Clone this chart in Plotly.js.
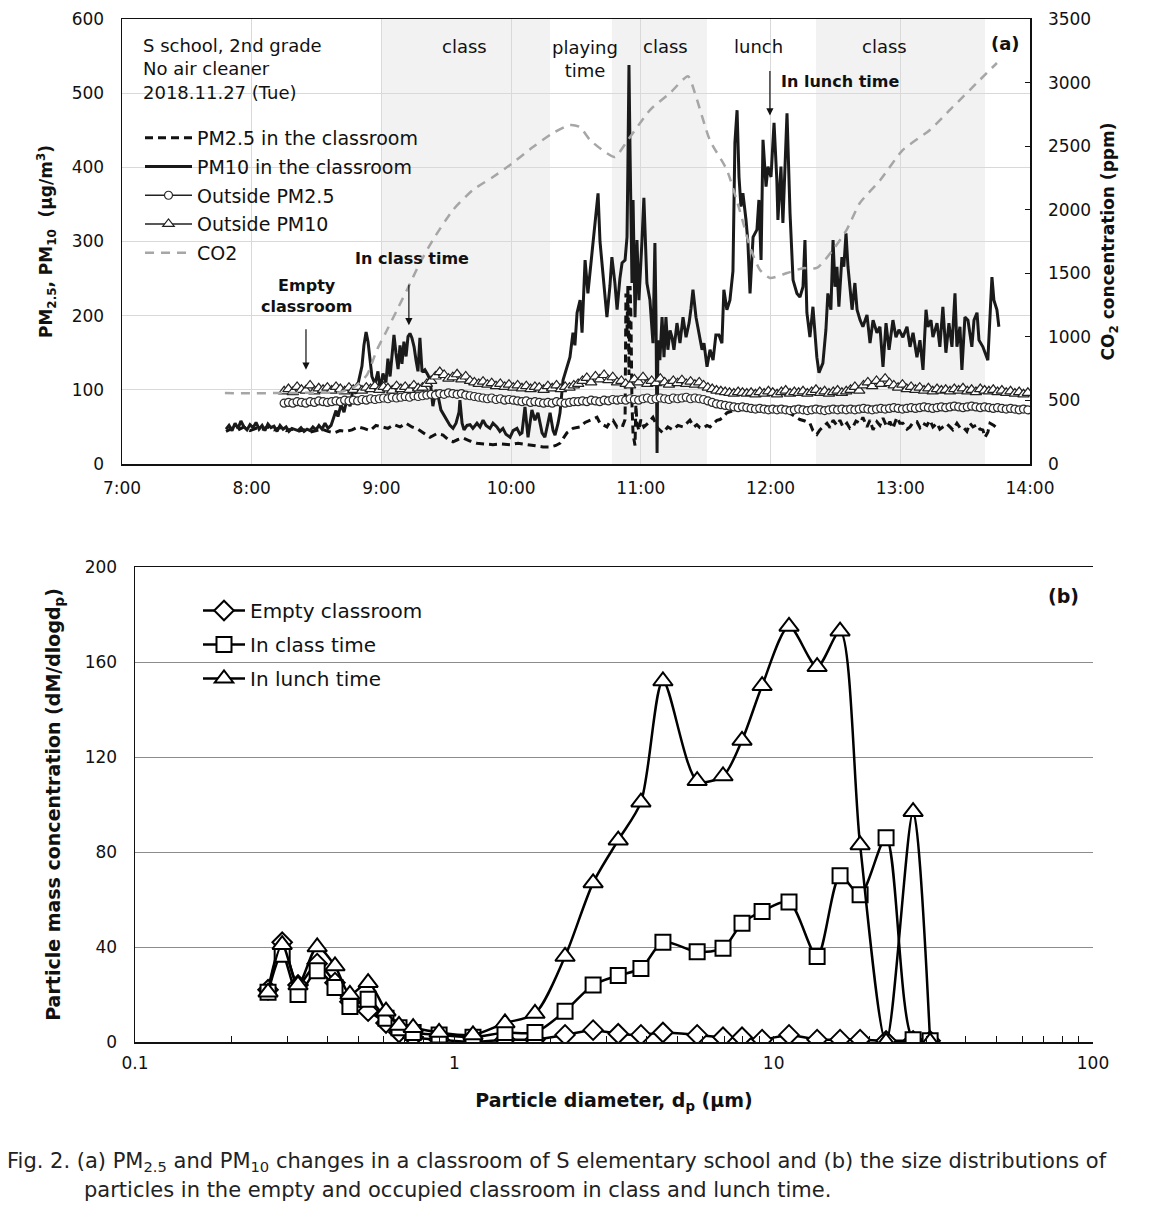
<!DOCTYPE html>
<html><head><meta charset="utf-8">
<script src="https://cdn.plot.ly/plotly-3.0.1.min.js"></script>
<style>html,body{margin:0;padding:0;background:#fff}</style>
</head><body><div id="chart" style="width:1159px;height:1209px"></div>
<script>
// ---------- (a) time series: time in minutes after 7:00 ----------
const hourTicks = [0,60,120,180,240,300,360,420];
const hourLabels = ['7:00','8:00','9:00','10:00','11:00','12:00','13:00','14:00'];

const pm10Time = [48.1,49.5,50.9,52.3,53.7,55.0,56.4,57.8,59.2,60.6,62.0,63.4,64.8,66.1,67.5,68.9,70.3,71.7,73.1,74.5,75.9,77.2,78.6,80.0,81.4,82.8,84.2,85.6,87.0,88.3,89.7,91.1,92.5,93.9,95.3,96.7,
97.6,99.0,99.9,101.3,102.7,104.1,105.5,106.8,108.2,109.6,
111.0,111.9,112.9,113.8,114.7,115.6,117.0,118.4,119.3,120.7,
122.1,123.0,124.0,124.9,125.8,126.7,127.7,128.6,129.5,130.4,
131.4,132.3,133.2,134.1,135.1,136.0,136.9,137.8,138.8,140.1,
141.5,142.5,143.8,145.2,146.2,147.5,148.9,150.3,151.7,153.1,
154.5,155.9,156.3,157.3,158.2,159.6,161.0,162.3,164.2,165.6,
167.0,168.4,170.2,171.6,173.4,174.8,176.2,177.6,179.5,180.9,
182.7,184.1,185.0,186.4,187.8,189.6,191.0,192.4,194.3,195.6,
197.0,198.0,199.4,200.3,201.7,202.6,204.0,205.8,207.2,208.6,
209.5,210.5,211.9,212.8,214.2,215.5,216.9,217.9,219.2,220.2,
221.1,222.5,223.4,224.3,225.7,226.6,228.0,229.0,230.3,231.3,
232.7,233.6,234.0,234.5,235.0,235.4,235.9,236.4,237.3,238.2,
239.1,240.5,241.4,242.8,244.2,245.6,246.5,247.0,247.5,247.9,
248.8,249.8,250.7,251.6,252.5,253.5,254.4,255.3,256.7,258.1,
259.5,260.9,262.3,263.2,264.1,265.5,266.9,268.3,269.2,270.6,
272.0,273.4,274.7,276.1,277.5,278.4,279.8,281.2,282.6,283.5,
284.5,285.4,286.3,287.2,288.6,289.5,290.5,291.9,293.7,294.6,
295.6,296.5,297.9,298.8,300.2,301.6,302.9,303.4,304.8,305.7,
307.6,309.0,310.4,312.2,313.6,315.0,315.9,316.8,318.2,319.6,
321.4,322.4,324.2,325.6,326.5,327.9,328.9,329.8,330.7,331.6,
333.0,333.9,334.9,335.8,336.7,337.7,339.0,340.0,341.4,342.7,
344.6,346.0,347.4,349.2,350.6,352.0,353.4,354.8,356.6,358.0,
359.4,361.2,363.1,364.5,365.9,367.7,369.1,370.5,371.9,372.8,
374.2,375.1,377.0,378.3,379.7,381.1,382.5,383.9,385.3,386.2,
387.6,388.5,389.9,391.3,393.1,394.1,395.5,396.4,398.2,399.2,
400.5,402.4,403.3,404.7,405.6];
const pm10Val = [47,52,45,55,48,58,50,46,53,49,56,47,52,45,54,49,51,44,52,47,50,44,48,46,45,49,44,47,45,50,46,52,47,55,48,52,
60,72,64,80,70,88,78,100,95,115,
132,160,178,165,140,118,108,125,100,122,
110,142,118,152,174,150,128,160,135,165,
145,172,176,170,158,140,125,170,124,127,
120,113,78,100,92,73,65,59,52,48,
55,70,86,55,46,52,53,48,55,50,
59,52,48,55,50,44,48,40,36,45,
48,40,42,77,36,73,59,69,42,36,
55,69,45,39,55,69,113,131,144,177,
160,204,221,177,275,230,270,302,340,365,
300,252,230,198,240,279,244,208,250,271,
275,306,400,538,420,356,244,356,198,302,
221,300,359,244,221,163,298,200,15,167,
140,198,144,198,154,180,171,154,190,163,
198,171,190,210,235,198,177,154,163,131,
154,140,174,174,163,235,208,221,260,433,
477,387,347,365,330,300,230,306,316,356,
275,437,374,401,387,460,383,329,401,325,
473,338,248,230,225,239,302,204,171,212,
144,123,136,181,230,208,302,239,266,212,
279,266,311,266,239,208,244,208,194,185,
201,163,194,177,185,131,190,154,194,171,
181,171,185,158,177,144,167,127,208,185,
194,171,190,158,212,150,190,158,230,158,
185,127,198,194,158,194,204,167,158,150,
140,252,221,208,185];

const pm25Time = [48.1,50.9,53.7,56.4,59.2,62.0,64.8,67.5,70.3,73.1,
75.9,78.6,81.4,84.2,87.0,89.7,92.5,95.3,98.1,100.8,
103.6,106.4,109.2,111.9,114.7,117.5,120.3,123.0,125.8,128.6,
131.4,134.1,136.9,139.2,142.5,145.7,148.5,150.8,153.1,155.4,
157.7,161.0,164.2,167.9,171.6,175.3,179.5,183.2,187.3,191.0,
194.7,198.0,200.7,202.6,204.4,205.8,208.6,211.9,214.2,216.5,
218.3,219.7,221.1,222.5,224.3,225.7,227.1,229.0,230.3,231.7,
232.7,233.1,233.6,234.0,234.5,235.0,235.4,235.9,236.4,237.3,
237.7,238.2,239.1,240.0,241.4,243.3,245.6,247.9,250.2,252.5,
254.8,257.2,259.5,261.3,262.7,264.6,265.9,267.3,268.7,270.6,
272.0,273.8,275.2,276.6,278.0,279.8,282.6,285.8,289.1,292.3,
295.1,298.3,301.6,304.8,308.0,311.3,313.6,315.9,318.2,319.6,
321.4,322.8,324.7,326.1,327.5,328.9,330.7,332.1,333.5,335.3,
336.7,338.1,339.5,341.4,342.7,344.6,346.0,347.4,349.2,350.6,
352.0,353.8,355.2,356.6,358.4,359.8,361.2,363.1,364.5,365.9,
367.7,369.1,370.5,372.3,373.7,375.1,377.0,378.3,379.7,381.6,
383.0,384.3,386.2,387.6,389.0,390.8,392.2,393.6,395.5,396.8,
398.2,399.2,400.5,401.5,403.3,404.7];
const pm25Val = [44,48,46,50,45,48,47,50,46,49,
45,47,44,46,43,45,47,44,42,45,
44,46,50,48,45,52,50,48,53,50,
55,50,47,42,36,41,39,33,30,33,
35,31,28,27,26,27,26,28,26,25,
23,23,25,28,36,42,48,50,56,59,
62,63,55,53,50,57,59,50,53,52,
60,230,180,240,120,240,200,80,40,25,
80,55,45,60,50,55,63,48,42,50,
46,52,50,55,59,50,53,49,48,52,
50,55,59,60,63,69,72,75,73,76,
74,77,75,73,70,64,60,58,55,45,
40,46,52,55,49,59,52,59,50,55,
48,50,58,55,63,50,59,46,57,52,
62,50,57,48,63,55,55,47,50,56,
57,49,55,52,59,50,55,47,50,54,
50,46,55,49,50,44,55,50,53,47,
46,36,43,55,52,48];

// outside monitors: every 2 min from 8:15
const outStart = 75, outStep = 2;
const outPM25 = [82,83,82,84,83,82,84,83,85,84,83,84,85,84,86,85,
86,85,87,86,88,87,88,89,88,90,89,90,91,90,92,91,92,
93,94,93,95,94,96,95,94,95,93,
92,91,90,89,88,89,87,88,86,87,
86,85,84,85,83,84,83,82,83,82,84,83,82,83,84,
84,85,84,86,85,84,86,85,87,86,
87,86,88,87,86,88,89,87,88,89,88,87,89,88,89,90,88,89,88,87,
85,83,81,80,79,78,77,76,77,76,
75,74,75,74,73,74,73,74,73,72,73,74,73,72,73,74,73,72,73,74,73,74,73,
74,73,74,75,74,73,74,75,74,75,76,75,74,75,76,75,76,77,76,75,76,77,
76,77,78,77,76,77,78,77,76,77,76,75,76,75,74,75,74,73,74,73];
const outPM10 = [98,101,97,104,100,99,106,98,102,100,103,99,104,101,98,103,
100,104,99,103,101,105,100,104,102,99,105,101,104,100,106,102,103,
108,112,118,124,120,115,117,121,114,118,
112,110,108,111,107,109,105,108,104,107,
103,106,102,105,101,104,103,100,105,102,106,101,104,103,106,
108,112,116,110,118,114,120,113,117,110,
112,108,106,114,110,117,108,112,109,115,110,107,112,109,113,108,111,107,110,106,
103,101,99,98,97,96,95,97,96,95,
96,94,97,95,98,96,94,97,99,95,97,96,98,95,97,100,96,98,95,97,99,96,98,
100,104,99,106,110,105,112,108,115,109,106,103,107,101,104,100,103,99,102,98,101,99,
100,98,101,99,102,98,100,97,101,99,98,100,97,99,96,98,95,97,94,96];

const co2Time = [47.6,59.2,73.1,87.0,100.8,107.8,113.3,117.9,122.6,127.2,131.8,137.8,143.8,153.1,162.3,171.6,179.5,190.1,199.3,207.2,211.8,216.5,223.4,228.0,234.0,244.2,253.5,261.8,265.0,271.9,279.8,285.8,290.5,295.1,299.7,307.6,315.0,321.4,328.8,335.3,341.3,350.6,361.2,373.7,384.3,395.4,404.7];
const co2Val = [558,556,558,560,565,610,700,897,1054,1211,1369,1581,1762,1998,2155,2257,2352,2493,2603,2666,2650,2548,2454,2415,2548,2784,2918,3050,2918,2548,2312,1990,1707,1526,1463,1502,1540,1542,1683,1845,2053,2230,2470,2627,2808,2997,3154];

const periodStart = [120.3, 226.6, 321.0];
const periodEnd   = [198.0, 270.6, 399.2];
const periodLabels = ['class','playing<br>time','class','lunch','class'];
const periodLabelTime = [158.6, 214.1, 251.6, 294.2, 352.9];

// ---------- (b) size distribution ----------
const diameter = [0.261,0.289,0.324,0.372,0.423,0.471,0.537,0.611,0.671,0.743,0.896,1.144,1.441,1.789,2.222,2.72,3.26,3.84,4.50,5.76,6.94,7.96,9.20,11.17,13.68,16.14,18.65,22.49,27.33,30.90];
const emptyRoom = [22,42,24,33,25,17,13,8,4,2,1,0,1,1,3,5,3.5,3,4,3,2,2,1,3,1,1,1,0.5,0.5,0.5];
const classTime = [21,37,20,30,23,15,18,10,6,4,3,2,4,4,13,24,28,31,42,38,39.5,50,55,59,36,70,62,86,1,0.5];
const lunchTime = [21,41,24,40,32,20,25,13,7,6,4,3,8,12,36,67,85,101,152,110,112,127,150,175,158,173,83,0,97,0];
const sizeTicks = [0.1,0.2,0.3,0.4,0.5,0.6,0.7,0.8,0.9,1,2,3,4,5,6,7,8,9,10,20,30,40,50,60,70,80,90,100];
const sizeTickText = sizeTicks.map(v => [0.1,1,10,100].includes(v) ? String(v) : '');

// ---------- layout helpers ----------
const W = 1159, H = 1209;
const fx = x => x / W, fy = y => 1 - y / H;
const FONT = 'DejaVu Sans, Verdana, sans-serif';

const outTimes = arr => arr.map((_, i) => outStart + outStep * i);

const traces = [
  {x: pm25Time, y: pm25Val, type: 'scatter', mode: 'lines', name: 'PM2.5 in the classroom',
   line: {color: '#111', width: 3, dash: '8px,5px'}, xaxis: 'x', yaxis: 'y', legend: 'legend', legendgroup: 'a1', legendrank: 1},
  {x: pm10Time, y: pm10Val, type: 'scatter', mode: 'lines', name: 'PM10 in the classroom',
   line: {color: '#1a1a1a', width: 3}, xaxis: 'x', yaxis: 'y', legend: 'legend', legendgroup: 'a2', legendrank: 2},
  {x: outTimes(outPM25), y: outPM25, type: 'scatter', mode: 'lines+markers', name: 'Outside PM2.5',
   line: {color: '#222', width: 1.5}, marker: {symbol: 'circle', size: 8, color: '#fff', line: {color: '#2a2a2a', width: 1.2}},
   xaxis: 'x', yaxis: 'y', legend: 'legend', legendgroup: 'a3', legendrank: 3},
  {x: outTimes(outPM10), y: outPM10, type: 'scatter', mode: 'lines+markers', name: 'Outside PM10',
   line: {color: '#222', width: 1.5}, marker: {symbol: 'triangle-up', size: 10, color: '#fff', line: {color: '#222', width: 1.2}},
   xaxis: 'x', yaxis: 'y', legend: 'legend', legendgroup: 'a4', legendrank: 4},
  {x: co2Time, y: co2Val, type: 'scatter', mode: 'lines', name: 'CO2',
   line: {color: '#a6a6a6', width: 2.5, dash: '9px,7px', shape: 'spline', smoothing: 0.6},
   xaxis: 'x', yaxis: 'y2', legend: 'legend', legendgroup: 'a5', legendrank: 5},

  {x: diameter, y: emptyRoom, type: 'scatter', mode: 'lines+markers', name: 'Empty classroom',
   line: {color: '#000', width: 2.5, shape: 'spline', smoothing: 0.8},
   marker: {symbol: 'diamond', size: 15, color: '#fff', line: {color: '#000', width: 2}},
   xaxis: 'x2', yaxis: 'y3', legend: 'legend2', legendgroup: 'b1'},
  {x: diameter, y: classTime, type: 'scatter', mode: 'lines+markers', name: 'In class time',
   line: {color: '#000', width: 2.5, shape: 'spline', smoothing: 0.8},
   marker: {symbol: 'square', size: 15, color: '#fff', line: {color: '#000', width: 2}},
   xaxis: 'x2', yaxis: 'y3', legend: 'legend2', legendgroup: 'b2'},
  {x: diameter, y: lunchTime, type: 'scatter', mode: 'lines+markers', name: 'In lunch time',
   line: {color: '#000', width: 2.5, shape: 'spline', smoothing: 0.8},
   marker: {symbol: 'triangle-up', size: 17, color: '#fff', line: {color: '#000', width: 2}},
   xaxis: 'x2', yaxis: 'y3', legend: 'legend2', legendgroup: 'b3'}
];

const shapes = periodStart.map((s, i) => ({
  type: 'rect', xref: 'x', yref: 'y', x0: s, x1: periodEnd[i], y0: 0, y1: 600,
  fillcolor: '#f2f2f2', line: {width: 0}, layer: 'below'
}));

const txt = (text, x, y, opts = {}) => Object.assign({
  text, x, y, xref: 'paper', yref: 'paper', showarrow: false, xanchor: 'center', yanchor: 'middle',
  font: {family: FONT, size: 18, color: '#111'}
}, opts);
const arrow = (x, y, ay) => ({text: '', x, y, xref: 'x', yref: 'y', showarrow: true, ax: 0, ay,
   arrowhead: 2, arrowsize: 1.2, arrowwidth: 1.2, arrowcolor: '#111'});

const annotations = [
  txt('S school, 2nd grade<br>No air cleaner<br>2018.11.27 (Tue)', fx(141), fy(33), {xanchor: 'left', yanchor: 'top', align: 'left'}),
  txt('<b>(a)</b>', fx(1005), fy(43)),
  txt('<b>(b)</b>', fx(1063), fy(596), {font: {family: FONT, size: 19, color: '#111'}}),
  ...periodLabels.map((t, i) => ({
    text: t, x: periodLabelTime[i], y: t.includes('<br>') ? fy(59) : fy(46), xref: 'x', yref: 'paper',
    xanchor: 'center', yanchor: 'middle', showarrow: false, font: {family: FONT, size: 18, color: '#111'}
  })),
  {text: '<b>Empty<br>classroom</b>', x: 85.5, y: fy(296), xref: 'x', yref: 'paper', showarrow: false,
   xanchor: 'center', yanchor: 'middle', font: {family: FONT, size: 16, color: '#111'}},
  arrow(85.1, 127, -42),
  {text: '<b>In class time</b>', x: 134.1, y: fy(258), xref: 'x', yref: 'paper', showarrow: false,
   xanchor: 'center', yanchor: 'middle', font: {family: FONT, size: 16, color: '#111'}},
  arrow(132.7, 187, -42),
  {text: '<b>In lunch time</b>', x: 332, y: fy(82), xref: 'x', yref: 'paper', showarrow: false,
   xanchor: 'center', yanchor: 'middle', font: {family: FONT, size: 16, color: '#111'}},
  arrow(299.7, 470, -46),
  txt('Fig. 2. (a) PM<sub>2.5</sub> and PM<sub>10</sub> changes in a classroom of S elementary school and (b) the size distributions of',
      fx(5), fy(1162), {xanchor: 'left', font: {family: FONT, size: 21, color: '#222'}}),
  txt('particles in the empty and occupied classroom in class and lunch time.',
      fx(82), fy(1190), {xanchor: 'left', font: {family: FONT, size: 21, color: '#222'}})
];

const tickFont = {family: FONT, size: 17, color: '#111'};
const titleFont = {family: FONT, size: 17, color: '#111'};
const layout = {
  width: W, height: H, margin: {l: 0, r: 0, t: 0, b: 0},
  paper_bgcolor: '#fff', plot_bgcolor: 'rgba(0,0,0,0)',
  font: {family: FONT, color: '#111'},
  showlegend: true,
  xaxis: {domain: [fx(122), fx(1030)], range: [0, 420], tickvals: hourTicks, ticktext: hourLabels,
          showgrid: true, gridcolor: '#d9d9d9', gridwidth: 1, zeroline: false,
          showline: true, linecolor: '#111', linewidth: 1.5, mirror: true, ticks: '', ticklabelstandoff: 8,
          tickfont: tickFont, anchor: 'y', automargin: false},
  yaxis: {domain: [fy(464), fy(19)], range: [0, 600], dtick: 100, showgrid: true, gridcolor: '#d9d9d9',
          zeroline: false, showline: true, linecolor: '#111', linewidth: 1.5, ticks: '', ticklabelstandoff: 13,
          tickfont: tickFont, anchor: 'x', automargin: false,
          title: {text: '<b>PM<sub>2.5</sub>, PM<sub>10</sub>  (μg/m<sup>3</sup>)</b>', font: titleFont, standoff: 14}},
  yaxis2: {overlaying: 'y', side: 'right', range: [0, 3500], dtick: 500, showgrid: false, zeroline: false,
           showline: true, linecolor: '#111', linewidth: 1.5, ticks: 'inside', ticklen: 5, tickcolor: '#111',
           ticklabelstandoff: 13, tickfont: tickFont, anchor: 'x', automargin: false,
           title: {text: '<b>CO<sub>2</sub> concentration (ppm)</b>', font: titleFont, standoff: 12}},
  xaxis2: {domain: [fx(135), fx(1093)], type: 'log', range: [-1, 2], tickvals: sizeTicks, ticktext: sizeTickText,
           ticks: 'inside', ticklen: 6, tickcolor: '#111', showgrid: false, zeroline: false,
           showline: true, linecolor: '#111', linewidth: 1.5, mirror: true, ticklabelstandoff: 5,
           tickfont: {family: FONT, size: 17, color: '#111'}, anchor: 'y3', automargin: false,
           title: {text: '<b>Particle diameter, d<sub>p</sub> (μm)</b>', font: {family: FONT, size: 19, color: '#111'}, standoff: 22}},
  yaxis3: {domain: [fy(1042), fy(567)], range: [0, 200], dtick: 40, showgrid: true, gridcolor: '#8c8c8c', gridwidth: 1,
           zeroline: false, showline: true, linecolor: '#111', linewidth: 1.5, ticks: '', ticklabelstandoff: 13,
           tickfont: {family: FONT, size: 17, color: '#111'}, anchor: 'x2', automargin: false,
           title: {text: '<b>Particle mass concentration (dM/dlogd<sub>p</sub>)</b>', font: {family: FONT, size: 19, color: '#111'}, standoff: 19}},
  legend: {x: fx(140), y: fy(119), xanchor: 'left', yanchor: 'top', bgcolor: 'rgba(0,0,0,0)',
           font: {family: FONT, size: 19, color: '#111'}, traceorder: 'grouped', tracegroupgap: 1,
           itemwidth: 47},
  legend2: {x: fx(198), y: fy(591), xanchor: 'left', yanchor: 'top', bgcolor: 'rgba(0,0,0,0)',
            font: {family: FONT, size: 20, color: '#111'}, traceorder: 'grouped', tracegroupgap: 5,
            itemwidth: 42},
  shapes, annotations
};

Plotly.newPlot('chart', traces, layout, {displayModeBar: false, staticPlot: true});
</script></body></html>
